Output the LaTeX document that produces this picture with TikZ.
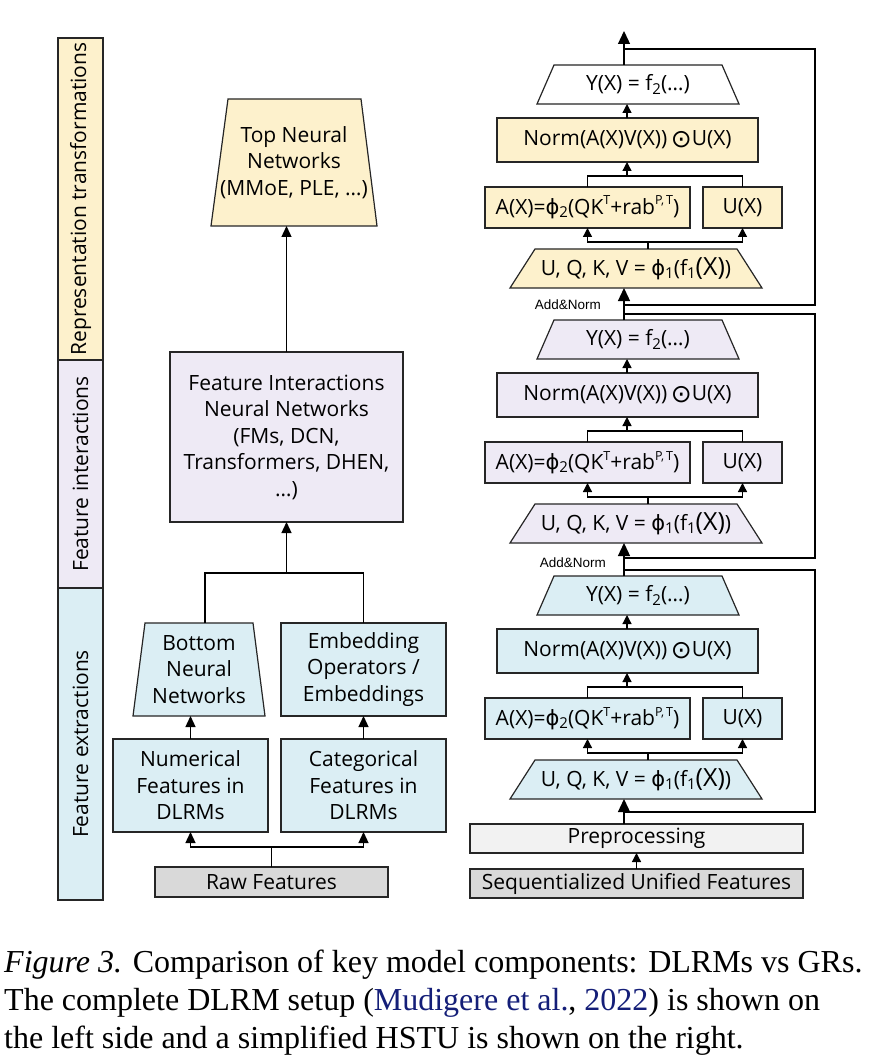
\documentclass[tikz,border=0pt]{standalone}
\usepackage{fontspec}
\setmainfont{Liberation Serif}
\newfontfamily\boxf{Open Sans}
\newfontfamily\symf{DejaVu Sans}
\newfontfamily\addf{Liberation Sans}
\usetikzlibrary{arrows.meta,calc}

\definecolor{ylw}{RGB}{253,241,204}
\definecolor{lav}{RGB}{238,234,245}
\definecolor{blu}{RGB}{219,238,244}
\definecolor{gra}{RGB}{217,217,217}
\definecolor{grb}{RGB}{242,242,242}
\definecolor{citec}{RGB}{20,30,120}

\newcommand\sbs[1]{\raisebox{-0.3ex}{\fontsize{15}{15}\selectfont #1}}
\newcommand\sps[1]{\raisebox{0.85ex}{\fontsize{12.5}{12.5}\selectfont #1}}
\newcommand\phisym{{\symf ϕ}}
\newcommand\odotsym{\,\raisebox{-0.15ex}{\symf\fontsize{25}{25}\selectfont ⊙}}

\newcommand\hblock[4]{%
  \filldraw[fill=#4, draw=black!85, line width=1.2pt] (537,104+#2) -- (554,65+#2) -- (722,65+#2) -- (739,104+#2) -- cycle;
  \node[bx, draw=none, minimum width=202pt, minimum height=39pt] (y#1) at (638,84.5+#2) {Y(X) = f\sbs{2}(…)};
  \node[bx, fill=#3, minimum width=261pt, minimum height=44pt] (n#1) at (627.5,140+#2) {Norm(A(X)V(X))\odotsym U(X)};
  \node[bx, fill=#3, minimum width=205pt, minimum height=41pt] (a#1) at (587.5,207.5+#2) {A(X)=\phisym\sbs{2}(QK\sps{T}+rab\sps{P,\,T})};
  \node[bx, fill=#3, minimum width=79pt, minimum height=41pt] (u#1) at (742.5,207.5+#2) {U(X)};
  \filldraw[fill=#3, draw=black!85, line width=1.2pt] (510,288+#2) -- (535,249+#2) -- (737,249+#2) -- (762,288+#2) -- cycle;
  \node[bx, draw=none, minimum width=252pt, minimum height=39pt] (q#1) at (636,268.5+#2) {U, Q, K, V = \phisym\sbs{1}(f\sbs{1}{\fontsize{25}{25}\selectfont(X)})};
  \coordinate (ju#1) at (627,176+#2);
  \draw[ln] (a#1.north) |- (ju#1) -| (u#1.north);
  \draw[arrs] (ju#1) -- (ju#1 |- n#1.south);
  \draw[arrs] (ju#1 |- n#1.north) -- (ju#1 |- y#1.south);
  \coordinate (jl#1) at (648,242+#2);
  \draw[ln] (jl#1 |- q#1.north) -- (jl#1);
  \draw[arrs] (jl#1) -| (a#1.south);
  \draw[arrs] (jl#1) -| (u#1.south);
}

\begin{document}
\begin{tikzpicture}[x=1pt,y=-1pt,
  bx/.style={draw=black!85, line width=1.2pt, inner sep=0pt, outer sep=0pt, align=center, font=\boxf\fontsize{21}{26.5}\selectfont},
  ln/.style={line width=1.3pt, black},
  arr/.style={ln, -{Triangle[length=11pt,width=10pt]}},
  arrb/.style={ln, -{Triangle[length=13pt,width=12pt]}},
  arrs/.style={ln, -{Triangle[length=9pt,width=9pt]}},
  lbl/.style={inner sep=0pt, font=\boxf\fontsize{21}{24}\selectfont, rotate=90}]

\useasboundingbox (0,0) rectangle (886,1064);
\fill[white] (0,0) rectangle (886,1064);

% ---------- sidebar ----------
\node[bx, fill=ylw, minimum width=45pt, minimum height=322pt, anchor=north west] (sbR) at (58,38) {};
\node[lbl] (lR) at (sbR.center) {Representation transformations};
\node[bx, fill=lav, minimum width=45pt, minimum height=228pt, anchor=north west] (sbI) at (58,360) {};
\node[lbl] (lI) at (sbI.center) {Feature interactions};
\node[bx, fill=blu, minimum width=45pt, minimum height=312pt, anchor=north west] (sbE) at (58,588) {};
\node[lbl] (lE) at (sbE.center) {Feature extractions};

% ---------- left column ----------
\filldraw[fill=ylw, draw=black!85, line width=1.2pt] (211,226) -- (228,99) -- (361,99) -- (377,226) -- cycle;
\node[bx, draw=none, minimum width=166pt, minimum height=127pt] (tnn) at (294,162.5) {Top Neural\\Networks\\(MMoE, PLE, …)};
\node[bx, fill=lav, minimum width=233pt, minimum height=170pt] (fi) at (286.5,437) {Feature Interactions\\Neural Networks\\(FMs, DCN,\\Transformers, DHEN,\\…)};
\filldraw[fill=blu, draw=black!85, line width=1.2pt] (133,716) -- (145,623) -- (253,623) -- (265,716) -- cycle;
\node[bx, draw=none, minimum width=132pt, minimum height=93pt] (bnn) at (199,669.5) {Bottom\\Neural\\Networks};
\node[bx, fill=blu, minimum width=165pt, minimum height=93pt] (emb) at (363.5,669.5) {Embedding\\Operators /\\Embeddings};
\node[bx, fill=blu, minimum width=155pt, minimum height=93pt] (num) at (190.5,785.5) {Numerical\\Features in\\DLRMs};
\node[bx, fill=blu, minimum width=165pt, minimum height=93pt] (cat) at (363.5,785.5) {Categorical\\Features in\\DLRMs};
\node[bx, fill=gra, minimum width=233pt, minimum height=30pt] (raw) at (271.5,882) {Raw Features};

\draw[arr] (fi.north) -- (fi.north |- tnn.south);
\coordinate (jt) at (286.5,573);
\draw[ln] ([xshift=6pt]bnn.north) |- (jt) -| (emb.north);
\draw[arr] (jt) -- (fi.south);
\draw[arr] (num.north) -- (num.north |- bnn.south);
\draw[arr] (cat.north) -- (emb.south);
\coordinate (jr) at (271.5,847);
\draw[ln] (raw.north) -- (jr);
\draw[arr] (jr) -| (num.south);
\draw[arr] (jr) -| (cat.south);

% ---------- right column ----------
\hblock{3}{0}{ylw}{white}
\hblock{2}{255}{lav}{lav}
\hblock{1}{511}{blu}{blu}

\node[bx, fill=grb, minimum width=333pt, minimum height=29pt] (pre) at (636.5,838.5) {Preprocessing};
\node[bx, fill=gra, minimum width=333pt, minimum height=29pt] (seq) at (636.5,883.5) {Sequentialized Unified Features};
\draw[arrs] (seq.north) -- (pre.south);

\coordinate (mx) at (624,0);
\coordinate (out) at (624,31);
\draw[arrb] (mx |- y3.north) -- (out);
\draw[arrb] (mx |- y2.north) -- (mx |- q3.south);
\draw[arrb] (mx |- y1.north) -- (mx |- q2.south);
\draw[arrb] (mx |- pre.north) -- (mx |- q1.south);

% residual connections
\coordinate (r3a) at (624,305); \coordinate (r3b) at (815,305);
\coordinate (r3c) at (815,49);  \coordinate (r3d) at (624,49);
\draw[ln] (r3a) -- (r3b) -- (r3c) -- (r3d);
\coordinate (r2a) at (624,558); \coordinate (r2b) at (815,558);
\coordinate (r2c) at (815,314); \coordinate (r2d) at (624,314);
\draw[ln] (r2a) -- (r2b) -- (r2c) -- (r2d);
\coordinate (r1a) at (624,812); \coordinate (r1b) at (815,812);
\coordinate (r1c) at (815,570); \coordinate (r1d) at (624,570);
\draw[ln] (r1a) -- (r1b) -- (r1c) -- (r1d);

\node[font=\addf\fontsize{13.5}{14}\selectfont, inner sep=0pt, anchor=east] (an3) at (601,305) {Add\&Norm};
\node[font=\addf\fontsize{13.5}{14}\selectfont, inner sep=0pt, anchor=east] (an2) at (606,563) {Add\&Norm};

% ---------- caption ----------
\node[anchor=base west, inner sep=0pt, font=\fontsize{32}{38}\selectfont] (cap1) at (4,972) {\textit{Figure 3.} Comparison of key model components: DLRMs vs GRs.};
\node[anchor=base west, inner sep=0pt, font=\fontsize{32}{38}\selectfont] (cap2) at (4,1010) {The complete DLRM setup (\textcolor{citec}{Mudigere et al.}, \textcolor{citec}{2022}) is shown on};
\node[anchor=base west, inner sep=0pt, font=\fontsize{32}{38}\selectfont] (cap3) at (4,1048) {the left side and a simplified HSTU is shown on the right.};
\end{tikzpicture}
\end{document}
